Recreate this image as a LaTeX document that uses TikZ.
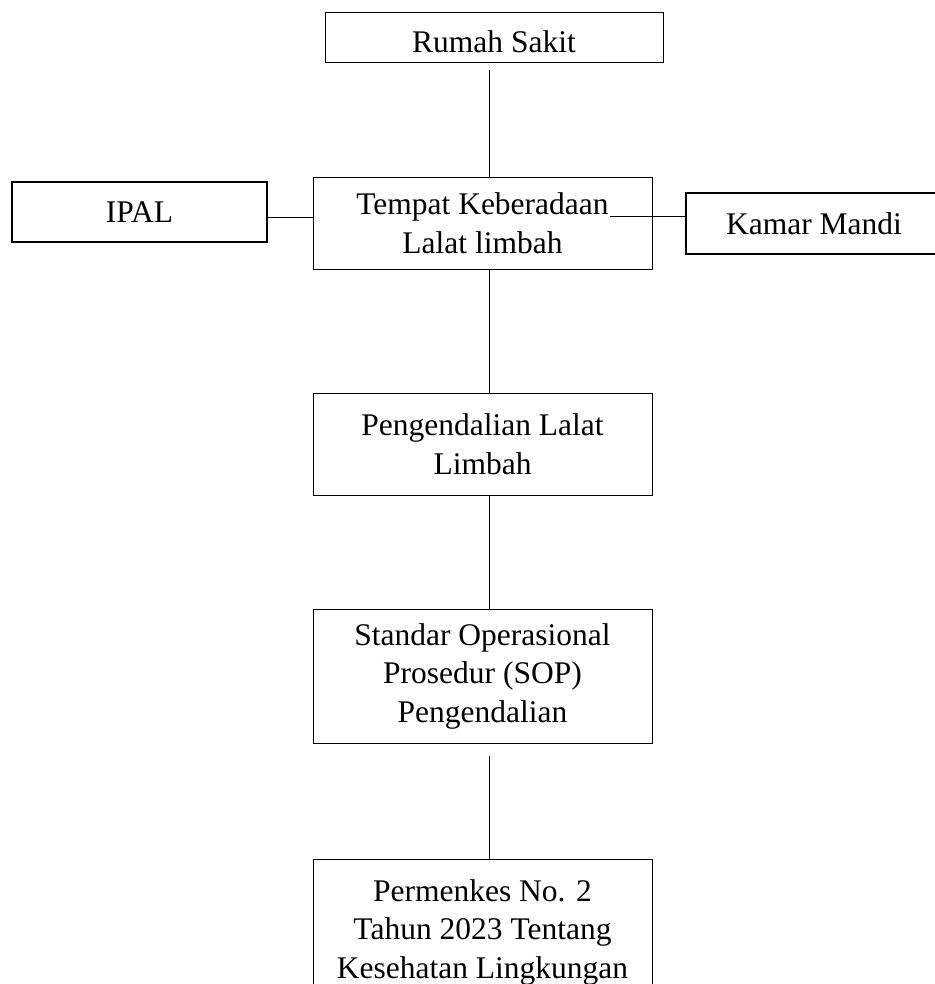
\documentclass[tikz,border=0pt]{standalone}
\usepackage{fontspec}
\setmainfont{Liberation Serif}
\usepackage{tikz}
\usetikzlibrary{positioning,calc}
\newcommand{\boxfont}{\fontsize{31.5}{38.5}\selectfont}
\tikzset{
  box/.style={draw, line width=0.8pt, align=center, font=\boxfont, inner sep=0pt,
              minimum width=339pt},
  thickbox/.style={box, line width=2.2pt, minimum width=256pt},
  link/.style={line width=0.8pt},
}

\begin{document}
\begin{tikzpicture}[x=1pt,y=-1pt]
\useasboundingbox (0,0) rectangle (934,984);
\node[box, minimum width=338pt, minimum height=50pt, text height=32pt, text depth=0pt] (rumah) at (494,37) {Rumah Sakit};
\node[box, minimum height=92pt] (tempat) at (482.5,223) {Tempat Keberadaan\\Lalat limbah};
\node[thickbox, minimum width=255pt, minimum height=60pt] (ipal) at (139.5,212) {IPAL};
\node[thickbox, minimum height=61pt] (kamar) at (814,223.5) {Kamar Mandi};
\node[box, minimum height=102pt] (kendali) at (482.5,444) {Pengendalian Lalat\\Limbah};
\node[box, minimum height=134pt] (sop) at (482.5,676) {Standar Operasional\\Prosedur (SOP)\\Pengendalian};
\node[box, minimum height=146pt] (permen) at (482.5,932) {Permenkes No. 2\\Tahun 2023 Tentang\\Kesehatan Lingkungan};
\coordinate (spine) at (489,0);
\coordinate (tk) at (610,216);
\draw[link] (rumah.south -| spine) ++(0,8) -- (tempat.north -| spine);
\draw[link] (tempat.south -| spine) -- (kendali.north -| spine);
\draw[link] (kendali.south -| spine) -- (sop.north -| spine);
\draw[link] (sop.south -| spine) ++(0,13) -- (permen.north -| spine);
\draw[link] ([yshift=-5pt]ipal.east) -- ([yshift=-5pt]ipal.east -| tempat.west);
\draw[link] (tk) -- (tk -| kamar.west);
\end{tikzpicture}
\end{document}
